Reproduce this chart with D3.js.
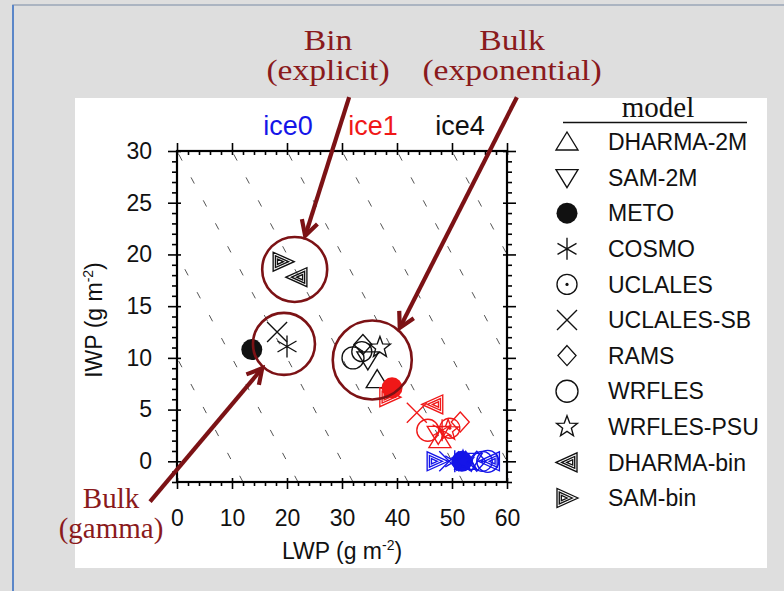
<!DOCTYPE html>
<html><head><meta charset="utf-8">
<script src="https://cdn.jsdelivr.net/npm/d3@7"></script>
<style>body{margin:0;background:#dedede}svg{display:block}</style>
</head><body><svg id="c" width="784" height="591"></svg>
<script>
// ---------- data ----------
const models = ["DHARMA-2M","SAM-2M","METO","COSMO","UCLALES","UCLALES-SB","RAMS","WRFLES","WRFLES-PSU","DHARMA-bin","SAM-bin"];
const markerTypes = ["triUp","triDown","dot","asterisk","circleDot","cross","diamond","circle","star","binLeft","binRight"];
const iceLabels = ["ice0","ice1","ice4"];
const iceColors = ["#1515e8","#f01818","#111111"];
// LWP / IWP (g m-2) per model, in the order of `models`
const ice0LWP = [52.5, 53.5, 51.8, 50.5, 55.5, 49.5, 54.5, 56.5, 52.0, 56.8, 47.3];
const ice0IWP = [0.0, 0.0, 0.0, 0.0, 0.0, 0.0, 0.0, 0.0, 0.0, 0.0, 0.0];
const ice1LWP = [47.8, 47.5, 39.1, 48.2, 49.6, 43.6, 51.5, 45.6, 49.3, 46.5, 38.7];
const ice1IWP = [2.1, 2.6, 7.1, 3.0, 3.2, 4.7, 3.8, 3.0, 3.0, 5.5, 6.2];
const ice4LWP = [36.4, 34.7, 13.6, 20.0, 33.6, 18.2, 33.8, 32.0, 36.9, 21.8, 19.3];
const ice4IWP = [7.9, 9.8, 10.8, 11.1, 10.6, 12.5, 11.3, 10.0, 11.0, 17.8, 19.3];
const xTicks = [0,10,20,30,40,50,60];
const yTicks = [0,5,10,15,20,25,30];
const totalPaths = [10,20,30,40,50,60,70,80,90];
// annotation groups (data coords)
const groupNames = [["Bin","(explicit)"],["Bulk","(exponential)"],["Bulk","(gamma)"]];
const groupCircleX = [21.4, 35.5, 19.45];
const groupCircleY = [18.55, 9.8, 11.35];
const arrowTailX = [31.3, 61.8, -4.9];
const arrowTailY = [35.2, 35.2, -3.9];
const arrowTipX = [23.3, 40.5, 15.5];
const arrowTipY = [21.8, 12.9, 9.0];

// ---------- layout ----------
const svg = d3.select("#c");
const x = d3.scaleLinear().domain([0,60]).range([177,507]);
const y = d3.scaleLinear().domain([-2,30]).range([482,151]);
const dark = "#7c1215";

svg.append("rect").attr("x",13).attr("y",5).attr("width",800).attr("height",600)
  .attr("fill","#dedede").attr("stroke","#9aa6b8").attr("stroke-width",1.5);
svg.append("line").attr("x1",13).attr("x2",13).attr("y1",5).attr("y2",591)
  .attr("stroke","#5b86c8").attr("stroke-width",2);
svg.append("rect").attr("x",75).attr("y",98).attr("width",692).attr("height",470).attr("fill","#fff");

svg.append("defs").append("clipPath").attr("id","plotclip").append("rect")
  .attr("x",x(0)).attr("y",y(30)).attr("width",x(60)-x(0)).attr("height",y(-2)-y(30));

// dashed lines of constant LWP+IWP
const gl = svg.append("g").attr("clip-path","url(#plotclip)");
totalPaths.forEach(c=>{
  gl.append("line").attr("x1",x(c+2)).attr("y1",y(-2)).attr("x2",x(c-30)).attr("y2",y(30))
    .attr("stroke","#555").attr("stroke-width",1).attr("stroke-dasharray","7,19");
});

// ---------- symbols ----------
function starPath(R,r){let p="";for(let i=0;i<10;i++){const a=-Math.PI/2+i*Math.PI/5;const rr=i%2?r:R;p+=(i?"L":"M")+(rr*Math.cos(a)).toFixed(2)+","+(rr*Math.sin(a)).toFixed(2);}return p+"Z";}
function nested(dir){
  const tri=(f)=>{const cx=4;const ax=cx+(-11-cx)*f, bx=cx+(10-cx)*f, by=9.5*f;
    return `M${dir*ax},0L${dir*bx},${-by}L${dir*bx},${by}Z`;};
  return tri(1)+tri(0.62)+tri(0.28);
}
function drawSymbol(g,type,color){
  const sw=1.35;
  const P=(d)=>g.append("path").attr("d",d).attr("fill","none").attr("stroke",color).attr("stroke-width",sw);
  switch(type){
    case "triUp": P("M0,-10L11,8L-11,8Z"); break;
    case "triDown": P("M0,10L11,-8L-11,-8Z"); break;
    case "dot": g.append("circle").attr("r",10.5).attr("fill",color); break;
    case "asterisk": P("M0,-11V11M-9.5,-5.5L9.5,5.5M-9.5,5.5L9.5,-5.5"); break;
    case "circleDot": g.append("circle").attr("r",10).attr("fill","none").attr("stroke",color).attr("stroke-width",sw);
      g.append("circle").attr("r",1.6).attr("fill",color); break;
    case "cross": P("M-10,-10L10,10M-10,10L10,-10"); break;
    case "diamond": P("M0,-10L9,0L0,10L-9,0Z"); break;
    case "circle": g.append("circle").attr("r",11).attr("fill","none").attr("stroke",color).attr("stroke-width",sw); break;
    case "star": P(starPath(11,4.6)); break;
    case "binLeft": P(nested(1)); break;
    case "binRight": P(nested(-1)); break;
  }
}

// ---------- points ----------
const series = [
  {lwp:ice4LWP, iwp:ice4IWP, color:iceColors[2]},
  {lwp:ice1LWP, iwp:ice1IWP, color:iceColors[1]},
  {lwp:ice0LWP, iwp:ice0IWP, color:iceColors[0]}
];
const gp = svg.append("g");
series.forEach(s=>{
  models.forEach((m,i)=>{
    const g = gp.append("g").attr("transform",`translate(${x(s.lwp[i])},${y(s.iwp[i])})`);
    drawSymbol(g, markerTypes[i], s.color);
  });
});

// ---------- axes ----------
function styleAxis(g){g.select(".domain").remove();g.selectAll("line").attr("stroke","#000").attr("stroke-width",1.6);
  g.selectAll("text").attr("font-family","Liberation Sans, Arial, sans-serif").attr("font-size",23).attr("fill","#111");}
const xMinor = d3.range(0,61,2).filter(v=>v%10);
const yMinor = d3.range(-2,31,1).filter(v=>v%5);
svg.append("g").attr("transform",`translate(0,${y(-2)})`).call(d3.axisBottom(x).tickValues(xTicks).tickSize(7).tickPadding(21)).call(styleAxis);
svg.append("g").attr("transform",`translate(0,${y(-2)})`).call(d3.axisBottom(x).tickValues(xTicks).tickSize(-4).tickFormat("")).call(styleAxis);
svg.append("g").attr("transform",`translate(0,${y(-2)})`).call(d3.axisBottom(x).tickValues(xMinor).tickSize(4).tickFormat("")).call(styleAxis);
svg.append("g").attr("transform",`translate(0,${y(30)})`).call(d3.axisTop(x).tickValues(xTicks).tickSize(8).tickFormat("")).call(styleAxis);
svg.append("g").attr("transform",`translate(0,${y(30)})`).call(d3.axisTop(x).tickValues(xTicks).tickSize(-4).tickFormat("")).call(styleAxis);
svg.append("g").attr("transform",`translate(0,${y(30)})`).call(d3.axisTop(x).tickValues(xMinor).tickSize(-4).tickFormat("")).call(styleAxis);
svg.append("g").attr("transform",`translate(${x(0)},0)`).call(d3.axisLeft(y).tickValues(yTicks).tickSize(9).tickPadding(16)).call(styleAxis);
svg.append("g").attr("transform",`translate(${x(0)},0)`).call(d3.axisLeft(y).tickValues(yTicks).tickSize(-4).tickFormat("")).call(styleAxis);
svg.append("g").attr("transform",`translate(${x(0)},0)`).call(d3.axisLeft(y).tickValues(yMinor).tickSize(5).tickFormat("")).call(styleAxis);
svg.append("g").attr("transform",`translate(${x(60)},0)`).call(d3.axisRight(y).tickValues(yTicks).tickSize(9).tickFormat("")).call(styleAxis);
svg.append("g").attr("transform",`translate(${x(60)},0)`).call(d3.axisRight(y).tickValues(yTicks).tickSize(-4).tickFormat("")).call(styleAxis);
svg.append("g").attr("transform",`translate(${x(60)},0)`).call(d3.axisRight(y).tickValues(yMinor).tickSize(5).tickFormat("")).call(styleAxis);
svg.append("rect").attr("x",x(0)).attr("y",y(30)).attr("width",x(60)-x(0)).attr("height",y(-2)-y(30))
  .attr("fill","none").attr("stroke","#000").attr("stroke-width",2.2);

// axis titles
const sans = "Liberation Sans, Arial, sans-serif";
const yt = svg.append("text").attr("transform","translate(102,320) rotate(-90)").attr("text-anchor","middle")
  .attr("font-family",sans).attr("font-size",23).attr("fill","#111");
yt.append("tspan").text("IWP (g m");
yt.append("tspan").attr("dy",-9).attr("font-size",14).text("-2");
yt.append("tspan").attr("dy",9).text(")");
const xt = svg.append("text").attr("x",342).attr("y",559).attr("text-anchor","middle")
  .attr("font-family",sans).attr("font-size",23).attr("fill","#111");
xt.append("tspan").text("LWP (g m");
xt.append("tspan").attr("dy",-9).attr("font-size",14).text("-2");
xt.append("tspan").attr("dy",9).text(")");

// ice labels
const iceX = [288, 373, 460];
iceLabels.forEach((t,i)=>{
  svg.append("text").attr("x",iceX[i]).attr("y",135).attr("text-anchor","middle")
    .attr("font-family",sans).attr("font-size",27).attr("fill",iceColors[i]).text(t);
});

// legend
const serif = "Liberation Serif, Times New Roman, serif";
svg.append("text").attr("x",658).attr("y",117).attr("text-anchor","middle").attr("font-family",serif)
  .attr("font-size",29).attr("fill","#111").text("model");
svg.append("line").attr("x1",563).attr("x2",747).attr("y1",122.5).attr("y2",122.5).attr("stroke","#111").attr("stroke-width",1.3);
models.forEach((m,i)=>{
  const cy = 142 + i*35.6;
  drawSymbol(svg.append("g").attr("transform",`translate(567,${cy})`), markerTypes[i], "#111");
  svg.append("text").attr("x",608).attr("y",cy).attr("dy","0.36em").attr("font-family",sans)
    .attr("font-size",23).attr("fill","#111").text(m);
});

// group circles + arrows
const groupR = [32.5, 39.5, 31];
groupCircleX.forEach((cx,i)=>{
  svg.append("circle").attr("cx",x(cx)).attr("cy",y(groupCircleY[i])).attr("r",groupR[i])
    .attr("fill","none").attr("stroke",dark).attr("stroke-width",2.6);
});
arrowTailX.forEach((tx,i)=>{
  const x1=x(tx), y1=y(arrowTailY[i]), x2=x(arrowTipX[i]), y2=y(arrowTipY[i]);
  svg.append("line").attr("x1",x1).attr("y1",y1).attr("x2",x2).attr("y2",y2)
    .attr("stroke",dark).attr("stroke-width",4.2);
  const a = Math.atan2(y2-y1,x2-x1), L=17, w=0.5;
  const p1=[x2-L*Math.cos(a-w), y2-L*Math.sin(a-w)], p2=[x2-L*Math.cos(a+w), y2-L*Math.sin(a+w)];
  svg.append("path").attr("d",`M${p1}L${x2},${y2}L${p2}`).attr("fill","none")
    .attr("stroke",dark).attr("stroke-width",4.2).attr("stroke-linejoin","miter");
});

// group labels (serif, slightly stretched horizontally like the reference)
const labelX = [328, 512, 111];
const labelY = [50, 50, 508];
const labelStretch = [1.16, 1.16, 1.0];
groupNames.forEach((lines,i)=>{
  lines.forEach((t,j)=>{
    svg.append("text").attr("transform",`translate(${labelX[i]},${labelY[i]+j*30}) scale(${labelStretch[i]},1)`)
      .attr("text-anchor","middle")
      .attr("font-family",serif).attr("font-size",29).attr("fill","#8a1a1c").text(t);
  });
});
</script></body></html>
